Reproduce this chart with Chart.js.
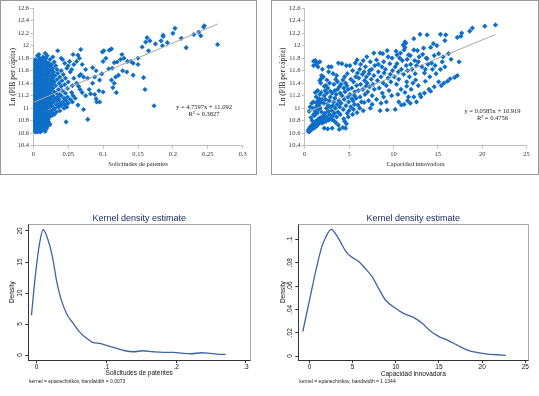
<!DOCTYPE html>
<html><head><meta charset="utf-8">
<script src="https://cdn.jsdelivr.net/npm/chart.js@4.4.1/dist/chart.umd.min.js"></script>
<style>
html,body{margin:0;padding:0;background:#fff;width:539px;height:396px;overflow:hidden;position:relative}
.box{position:absolute;border:1px solid #9a9a9a;box-sizing:border-box}
canvas{position:absolute}
</style></head><body>
<div class="box" style="left:0;top:0;width:257px;height:175px"></div>
<div class="box" style="left:271px;top:0;width:268px;height:175px"></div>
<canvas id="c1" width="255" height="173" style="left:1px;top:1px"></canvas>
<canvas id="c2" width="265" height="173" style="left:272px;top:1px"></canvas>
<canvas id="c3" width="270" height="200" style="left:0px;top:196px"></canvas>
<canvas id="c4" width="269" height="200" style="left:270px;top:196px"></canvas>
<script>
// ---------- DATA ----------
const patentPoints = [
 [0.003,10.62],[0.006,10.62],[0.010,10.62],[0.017,10.63],
 [0.001,10.64],[0.004,10.64],[0.008,10.64],[0.012,10.64],[0.017,10.65],
 [0.000,10.66],[0.002,10.66],[0.005,10.66],[0.009,10.66],[0.014,10.66],
 [0.001,10.68],[0.003,10.68],[0.007,10.68],[0.011,10.68],[0.019,10.68],
 [0.000,10.70],[0.002,10.70],[0.005,10.70],[0.008,10.70],[0.013,10.70],[0.016,10.70],
 [0.001,10.72],[0.004,10.72],[0.006,10.72],[0.010,10.72],[0.015,10.72],[0.021,10.72],
 [0.000,10.74],[0.003,10.74],[0.007,10.74],[0.012,10.74],[0.018,10.74],[0.024,10.74],
 [0.002,10.76],[0.005,10.76],[0.009,10.76],[0.014,10.76],[0.020,10.76],
 [0.000,10.78],[0.004,10.78],[0.008,10.78],[0.011,10.78],[0.017,10.78],[0.022,10.78],[0.047,10.78],
 [0.001,10.80],[0.003,10.80],[0.006,10.80],[0.013,10.80],[0.019,10.80],[0.016,10.81],
 [0.000,10.82],[0.005,10.82],[0.009,10.82],[0.015,10.82],[0.021,10.82],[0.078,10.82],
 [0.002,10.84],[0.007,10.84],[0.011,10.84],[0.018,10.84],
 [0.000,10.86],[0.004,10.86],[0.010,10.86],[0.014,10.86],[0.023,10.86],
 [0.001,10.88],[0.006,10.88],[0.012,10.88],[0.019,10.88],[0.026,10.88],
 [0.003,10.90],[0.008,10.90],[0.016,10.90],[0.022,10.90],[0.030,10.90],
 [0.000,10.92],[0.005,10.92],[0.011,10.92],[0.018,10.92],[0.027,10.92],
 [0.002,10.94],[0.009,10.94],[0.014,10.94],[0.021,10.94],[0.033,10.94],
 [0.001,10.96],[0.006,10.96],[0.012,10.96],[0.025,10.96],[0.038,10.96],
 [0.004,10.98],[0.010,10.98],[0.017,10.98],[0.029,10.98],[0.072,10.98],
 [0.000,11.00],[0.007,11.00],[0.013,11.00],[0.020,11.00],[0.031,11.00],[0.044,11.00],
 [0.003,11.02],[0.009,11.02],[0.016,11.02],[0.024,11.02],[0.036,11.02],[0.048,11.02],
 [0.001,11.04],[0.006,11.04],[0.011,11.04],[0.019,11.04],[0.027,11.04],[0.040,11.04],[0.064,11.05],[0.173,11.04],
 [0.004,11.06],[0.008,11.06],[0.014,11.06],[0.022,11.06],[0.033,11.06],[0.045,11.06],
 [0.002,11.08],[0.010,11.08],[0.017,11.08],[0.025,11.08],[0.038,11.08],[0.050,11.08],
 [0.000,11.10],[0.005,11.10],[0.012,11.10],[0.020,11.10],[0.029,11.10],[0.042,11.10],[0.056,11.10],[0.091,11.10],[0.095,11.10],
 [0.003,11.12],[0.008,11.12],[0.015,11.12],[0.023,11.12],[0.034,11.12],[0.047,11.12],
 [0.001,11.14],[0.006,11.14],[0.011,11.14],[0.018,11.14],[0.026,11.14],[0.037,11.14],[0.053,11.14],
 [0.004,11.16],[0.009,11.16],[0.014,11.16],[0.021,11.16],[0.031,11.16],[0.044,11.16],[0.060,11.16],[0.090,11.15],
 [0.002,11.18],[0.007,11.18],[0.016,11.18],[0.024,11.18],[0.035,11.18],[0.049,11.18],
 [0.000,11.20],[0.005,11.20],[0.012,11.20],[0.019,11.20],[0.028,11.20],[0.040,11.20],[0.057,11.20],[0.075,11.20],
 [0.003,11.22],[0.010,11.22],[0.017,11.22],[0.026,11.22],[0.038,11.22],[0.088,11.22],
 [0.001,11.24],[0.008,11.24],[0.014,11.24],[0.022,11.24],[0.033,11.24],[0.046,11.24],[0.082,11.23],[0.119,11.25],
 [0.005,11.26],[0.011,11.26],[0.020,11.26],[0.030,11.26],[0.055,11.25],[0.070,11.25],[0.100,11.26],
 [0.002,11.28],[0.009,11.28],[0.016,11.28],[0.025,11.28],[0.042,11.28],[0.067,11.30],[0.094,11.28],
 [0.000,11.30],[0.006,11.30],[0.013,11.30],[0.021,11.30],[0.036,11.30],[0.080,11.30],
 [0.003,11.32],[0.010,11.32],[0.018,11.32],[0.028,11.32],[0.049,11.32],[0.114,11.33],
 [0.001,11.34],[0.007,11.34],[0.015,11.34],[0.024,11.34],[0.040,11.35],[0.065,11.35],
 [0.004,11.36],[0.011,11.36],[0.020,11.36],[0.032,11.36],[0.056,11.36],
 [0.002,11.38],[0.009,11.38],[0.017,11.38],[0.027,11.38],[0.045,11.38],
 [0.000,11.40],[0.006,11.40],[0.013,11.40],[0.023,11.40],[0.037,11.40],[0.062,11.40],[0.085,11.40],[0.116,11.40],
 [0.003,11.42],[0.010,11.42],[0.019,11.42],[0.030,11.42],[0.050,11.42],
 [0.001,11.44],[0.008,11.44],[0.016,11.44],[0.026,11.44],[0.041,11.44],[0.112,11.45],[0.095,11.45],
 [0.005,11.46],[0.012,11.46],[0.021,11.46],[0.034,11.46],[0.058,11.48],
 [0.002,11.48],[0.009,11.48],[0.018,11.48],[0.028,11.48],[0.046,11.48],[0.078,11.48],[0.158,11.49],
 [0.000,11.50],[0.006,11.50],[0.014,11.50],[0.024,11.50],[0.038,11.50],[0.072,11.50],[0.118,11.50],[0.088,11.50],
 [0.003,11.52],[0.011,11.52],[0.020,11.52],[0.031,11.52],[0.068,11.54],[0.122,11.53],
 [0.001,11.54],[0.008,11.54],[0.017,11.54],[0.027,11.54],[0.043,11.54],[0.066,11.52],[0.143,11.53],
 [0.005,11.56],[0.013,11.56],[0.022,11.56],[0.035,11.56],[0.098,11.55],
 [0.002,11.58],[0.010,11.58],[0.019,11.58],[0.029,11.58],[0.053,11.58],[0.134,11.58],
 [0.000,11.60],[0.007,11.60],[0.015,11.60],[0.025,11.60],[0.040,11.60],[0.090,11.60],[0.128,11.60],
 [0.004,11.62],[0.012,11.62],[0.021,11.62],[0.034,11.62],[0.055,11.62],[0.075,11.62],
 [0.001,11.64],[0.009,11.64],[0.018,11.64],[0.028,11.64],[0.048,11.64],[0.108,11.63],[0.113,11.64],
 [0.006,11.66],[0.014,11.66],[0.024,11.66],[0.085,11.65],
 [0.003,11.68],[0.011,11.68],[0.020,11.68],[0.032,11.68],[0.050,11.68],
 [0.000,11.70],[0.008,11.70],[0.016,11.70],[0.026,11.70],[0.058,11.70],[0.070,11.70],[0.150,11.70],
 [0.005,11.72],[0.013,11.72],[0.022,11.72],[0.045,11.72],[0.143,11.72],
 [0.001,11.74],[0.010,11.74],[0.019,11.74],[0.030,11.74],[0.052,11.75],[0.100,11.75],[0.116,11.73],[0.120,11.74],
 [0.007,11.76],[0.015,11.76],[0.040,11.80],[0.062,11.75],
 [0.003,11.78],[0.012,11.78],[0.024,11.78],[0.042,11.78],[0.125,11.78],
 [0.009,11.80],[0.018,11.80],[0.066,11.80],[0.104,11.80],[0.130,11.80],[0.150,11.80],
 [0.014,11.82],[0.028,11.82],[0.006,11.84],[0.020,11.84],
 [0.008,11.86],[0.057,11.86],[0.127,11.86],[0.064,11.85],[0.017,11.88],[0.099,11.90],
 [0.035,11.92],[0.101,11.92],[0.109,11.93],[0.165,11.92],[0.068,11.94],[0.112,11.95],
 [0.245,12.32],[0.244,12.30],[0.237,12.22],[0.240,12.16],[0.230,12.18],[0.212,12.12],[0.203,12.28],[0.200,12.20],
 [0.186,12.17],[0.186,12.15],[0.183,12.08],[0.192,12.05],[0.185,12.00],[0.175,12.03],[0.167,12.08],[0.163,12.13],
 [0.161,12.06],[0.156,11.98],[0.264,12.02],[0.219,11.97],[0.140,11.75],[0.135,11.75],[0.160,11.30]
];
const capacityPoints = [
 [0.4,10.63],[0.45,10.66],[0.5,10.62],[0.55,10.68],[0.6,10.64],[0.65,10.70],[0.7,10.67],[0.75,10.72],[0.8,10.66],[0.85,10.69],[0.9,10.74],[0.95,10.71],
 [0.5,10.95],[0.6,11.02],[0.8,11.08],[0.9,11.00],[1.0,10.90],[0.7,10.85],[0.85,10.80],[1.0,11.10],[1.0,11.75],[1.0,11.68],
 [1.05,10.68],[1.1,10.73],[1.15,10.76],[1.2,10.70],[1.25,10.79],[1.3,10.74],[1.4,10.72],[1.45,10.78],[1.5,10.82],[1.55,10.75],[1.6,10.80],[1.7,10.77],
 [1.75,10.85],[1.8,10.79],[1.9,10.83],[1.95,10.76],[1.1,10.88],[1.2,10.95],[1.3,11.02],[1.35,11.08],[1.4,10.92],[1.5,11.12],[1.55,10.98],[1.6,11.05],
 [1.65,11.15],[1.7,11.22],[1.75,11.00],[1.8,11.09],[1.85,11.25],[1.9,10.94],[1.95,11.14],[1.2,11.76],[1.3,11.70],[1.4,11.72],[1.5,11.66],[1.7,11.74],
 [1.9,11.52],[1.7,11.44],[1.85,11.47],[1.8,11.40],[2.0,11.62],[1.2,11.25],[1.3,11.18],[1.45,11.28],
 [2.0,10.80],[2.1,10.88],[2.15,10.78],[2.2,10.68],[2.25,10.84],[2.3,10.92],[2.4,10.79],[2.45,11.00],[2.5,10.86],[2.55,11.06],[2.6,10.67],[2.65,10.95],
 [2.7,10.81],[2.75,11.12],[2.8,10.90],[2.85,11.02],[2.9,11.18],[2.95,10.84],[2.1,11.50],[2.15,11.08],[2.2,11.20],[2.3,11.28],[2.35,11.14],[2.4,11.36],
 [2.5,11.24],[2.6,11.32],[2.7,11.58],[2.7,11.66],[2.8,11.40],[2.9,11.27],[3.0,11.66],[2.5,11.45],[2.2,11.35],
 [3.0,10.82],[3.05,10.96],[3.1,10.68],[3.15,11.04],[3.2,10.88],[3.25,11.10],[3.3,10.80],[3.35,10.92],[3.4,11.16],[3.45,11.00],[3.5,10.77],[3.55,11.22],
 [3.6,10.86],[3.65,11.06],[3.7,11.30],[3.75,10.94],[3.8,10.73],[3.85,11.12],[3.9,10.66],[3.95,11.02],[3.2,11.55],[3.3,11.38],[3.5,11.46],[3.6,11.52],
 [3.8,11.72],[3.7,11.42],[3.9,11.34],[3.4,11.28],[3.1,11.24],
 [4.0,10.90],[4.1,11.08],[4.2,11.20],[4.3,10.69],[4.35,10.98],[4.4,10.83],[4.45,11.14],[4.5,10.79],[4.55,11.26],[4.6,10.68],[4.65,11.04],[4.7,10.75],
 [4.75,11.36],[4.8,10.92],[4.85,11.18],[4.9,10.86],[4.95,11.10],[4.2,11.71],[4.3,11.45],[4.5,11.50],[4.6,11.40],[4.7,11.68],[4.8,11.55],[4.9,11.30],
 [4.4,11.32],[4.1,11.38],[4.0,11.24],
 [5.0,10.96],[5.1,11.68],[5.1,11.22],[5.2,11.02],[5.3,11.32],[5.4,10.90],[5.45,11.12],[5.5,11.42],[5.6,11.06],[5.65,11.26],[5.7,11.72],[5.75,11.50],
 [5.8,11.16],[5.85,11.36],[5.9,10.93],[5.95,11.56],[5.2,11.46],[5.4,11.60],[5.6,11.20],[5.9,11.77],[5.3,11.15],[5.5,10.98],
 [6.0,11.05],[6.05,11.28],[6.1,11.48],[6.2,11.62],[6.25,11.18],[6.3,11.38],[6.4,11.10],[6.5,11.54],[6.55,11.30],[6.6,10.96],[6.6,11.76],[6.7,11.09],
 [6.75,11.44],[6.8,11.22],[6.85,11.66],[6.9,11.35],[6.95,11.50],[6.3,11.70],[6.7,11.58],[6.2,11.00],
 [7.0,11.82],[7.05,11.40],[7.1,11.26],[7.2,11.12],[7.25,11.55],[7.3,11.34],[7.4,11.00],[7.4,11.74],[7.5,11.46],[7.55,11.62],[7.6,11.20],[7.7,11.38],
 [7.8,11.88],[7.8,11.52],[7.85,11.30],[7.9,11.68],[7.3,11.60],[7.6,11.06],
 [8.1,11.14],[8.1,11.77],[8.2,11.44],[8.3,11.58],[8.4,11.32],[8.5,10.96],[8.5,11.88],[8.6,11.50],[8.7,11.66],[8.75,11.24],[8.8,11.87],[8.85,11.40],
 [8.9,11.18],[8.9,11.74],[8.95,11.56],[8.3,11.70],[8.6,11.08],
 [9.1,11.62],[9.2,11.36],[9.3,10.97],[9.3,11.92],[9.4,11.48],[9.5,11.28],[9.6,11.71],[9.65,11.54],[9.7,11.42],[9.8,11.20],[9.85,11.80],[9.9,11.60],
 [9.4,11.82],[9.2,11.10],
 [10.1,11.50],[10.2,10.98],[10.2,11.66],[10.3,11.91],[10.35,11.38],[10.4,11.71],[10.5,11.22],[10.55,11.58],[10.6,11.46],[10.7,11.80],[10.8,11.88],
 [10.85,11.30],[10.9,11.62],[11.0,11.76],[10.6,11.10],[10.4,11.85],[10.9,11.05],
 [11.1,12.01],[11.15,11.54],[11.2,11.06],[11.2,11.93],[11.3,11.25],[11.3,11.97],[11.3,12.06],[11.4,12.04],[11.45,11.68],[11.5,11.42],[11.55,11.78],
 [11.6,11.60],[11.7,11.85],[11.8,11.50],[11.9,11.08],[11.9,11.84],[11.95,11.70],[11.5,11.35],[11.7,11.18],[11.6,11.12],
 [12.0,11.30],[12.1,11.62],[12.3,12.11],[12.3,11.93],[12.4,11.76],[12.45,11.55],[12.6,11.10],[12.6,11.68],[12.7,11.92],[12.8,11.36],[12.8,11.74],
 [12.9,11.82],[12.5,11.45],[12.2,11.40],[12.3,11.18],
 [13.0,12.18],[13.1,11.18],[13.2,11.66],[13.4,11.96],[13.5,11.24],[13.5,11.56],[13.6,11.43],[13.7,11.80],[13.8,12.17],[13.8,11.79],[13.9,11.70],
 [13.3,11.86],[13.6,11.62],[13.0,11.22],
 [14.1,11.50],[14.2,11.27],[14.2,11.97],[14.3,11.72],[14.5,12.03],[14.6,11.34],[14.6,11.84],[14.8,11.55],[14.9,12.00],[14.7,11.68],[14.4,11.62],[14.0,11.30],
 [15.1,11.87],[15.3,12.18],[15.3,11.62],[15.4,11.36],[15.5,11.74],[15.7,11.40],[15.8,11.66],[15.8,12.08],[15.9,12.17],[15.6,11.82],[15.1,11.42],
 [16.1,11.43],[16.2,11.87],[16.5,11.78],[16.4,11.47],[16.9,11.49],[17.2,11.52],[17.2,12.13],[17.4,11.74],[17.6,12.15],[17.7,12.20],[18.6,12.23],
 [18.9,12.28],[20.3,12.31],[21.5,12.33]
];
const patTrendX = [0, 0.264];
const patTrendY = [11.092, 12.349];
const capTrendX = [0.3, 21.5];
const capTrendY = [10.937, 12.177];
const patEquation = ['y = 4.7597x + 11.092', 'R\u00B2 = 0.3827'];
const capEquation = ['y = 0.0585x + 10.919', 'R\u00B2 = 0.4756'];

const lnTickValues = [10.4,10.6,10.8,11,11.2,11.4,11.6,11.8,12,12.2,12.4,12.6];
const lnTickLabels = ['10.4','10.6','10.8','11','11.2','11.4','11.6','11.8','12','12.2','12.4','12.6'];
const patXTickValues = [0,0.05,0.1,0.15,0.2,0.25,0.3];
const patXTickLabels = ['0','0.05','0.1','0.15','0.2','0.25','0.3'];
const capXTickValues = [0,5,10,15,20,25];
const capXTickLabels = ['0','5','10','15','20','25'];

const kdPatX = [-0.0072,-0.0024,0.0038,0.0096,0.0167,0.023,0.0287,0.0344,0.043,0.0526,0.062,0.0717,0.081,0.0908,0.1,0.1147,0.127,0.1386,0.153,0.167,0.182,0.196,0.21,0.222,0.236,0.246,0.258,0.271];
const kdPatY = [6.4,12,17.6,20.2,18.5,15.7,12,9.3,6.7,5.1,3.7,2.7,2.0,1.87,1.55,1.07,0.69,0.53,0.69,0.53,0.43,0.43,0.27,0.21,0.37,0.32,0.16,0.1];
const kdCapX = [-0.78,0,0.85,1.43,1.82,2.52,3.0,3.57,4.26,4.92,5.7,6.47,7.25,8.0,8.8,9.96,10.9,12.1,13.06,14.0,15.0,15.97,17.1,18.3,19.5,20.6,21.8,22.75];
const kdCapY = [0.021,0.048,0.077,0.094,0.101,0.1086,0.105,0.098,0.089,0.0846,0.081,0.075,0.068,0.058,0.048,0.041,0.0366,0.0329,0.028,0.0214,0.0166,0.0137,0.0094,0.0051,0.0029,0.0017,0.0011,0.0006];
const kdPatXTicks = [0,0.1,0.2,0.3];
const kdPatXLabels = ['0','.1','.2','.3'];
const kdPatYTicks = [0,5,10,15,20];
const kdPatYLabels = ['0','5','10','15','20'];
const kdCapXTicks = [0,5,10,15,20,25];
const kdCapXLabels = ['0','5','10','15','20','25'];
const kdCapYTicks = [0,0.02,0.04,0.06,0.08,0.1];
const kdCapYLabels = ['0','.02','.04','.06','.08','.1'];
const kdTitle = 'Kernel density estimate';
const kdPatNote = 'kernel = epanechnikov, bandwidth = 0.0073';
const kdCapNote = 'kernel = epanechnikov, bandwidth = 1.1344';

// ---------- HELPERS ----------
const textPlugin = {
  id: 'extraText',
  afterDraw(chart, args, opts) {
    const ctx = chart.ctx;
    (opts.items || []).forEach(it => {
      ctx.save();
      ctx.font = it.font; ctx.fillStyle = it.color;
      ctx.textAlign = it.align || 'center'; ctx.textBaseline = 'middle';
      const x = it.x === 'center' ? (chart.chartArea.left + chart.chartArea.right) / 2 : it.x;
      ctx.fillText(it.text, x, it.y);
      ctx.restore();
    });
  }
};
const framePlugin = {
  id: 'frame',
  afterDatasetsDraw(chart, args, opts) {
    if (!opts.color) return;
    const {ctx, chartArea: a} = chart;
    ctx.save(); ctx.strokeStyle = opts.color; ctx.lineWidth = 1;
    ctx.beginPath();
    ctx.moveTo(Math.round(a.left) + 0.5, Math.round(a.top) + 0.5);
    ctx.lineTo(Math.round(a.right) + 0.5, Math.round(a.top) + 0.5);
    ctx.lineTo(Math.round(a.right) + 0.5, Math.round(a.bottom) + 0.5);
    ctx.stroke(); ctx.restore();
  }
};
const pts = (arr) => arr.map(p => ({x: p[0], y: p[1]}));
const zip = (xs, ys) => xs.map((x, i) => ({x, y: ys[i]}));
const fixTicks = (vals) => (s) => { s.ticks = vals.map(v => ({value: v})); };

const serif = 'Liberation Serif, Times New Roman, serif';
const sans = 'Liberation Sans, Arial, sans-serif';
const blue = '#0e6ec8';

function excelScatter(id, points, tx, ty, eq, xVals, xLabs, xMin, xMax, xTitle, dims) {
  new Chart(document.getElementById(id), {
    type: 'scatter',
    data: { datasets: [
      { type: 'line', data: zip(tx, ty), borderColor: '#a6a6a6', borderWidth: 1, pointRadius: 0, fill: false, order: 0 },
      { data: pts(points), pointStyle: 'rectRot', pointRadius: 2.6, backgroundColor: blue, borderColor: blue, borderWidth: 0, order: 1 }
    ]},
    options: {
      responsive: false, animation: false, events: [],
      layout: { padding: { left: 0, right: dims.right, top: dims.top, bottom: 0 } },
      plugins: { legend: { display: false }, tooltip: { enabled: false },
        extraText: { items: [
          { text: eq[0], x: dims.eqX, y: dims.eqY, font: '6.5px ' + serif, color: '#222' },
          { text: eq[1], x: dims.eqX, y: dims.eqY + 6.5, font: '6.5px ' + serif, color: '#222' }
        ]}
      },
      scales: {
        x: { type: 'linear', min: xMin, max: xMax, afterBuildTicks: fixTicks(xVals),
          afterFit: s => { s.height = dims.xh; },
          ticks: { autoSkip: false, maxRotation: 0, padding: 2.3, font: { family: serif, size: 6.5, lineHeight: 1 }, color: '#333', callback: (v, i) => xLabs[i] },
          grid: { display: true, drawOnChartArea: false, tickLength: 3, color: '#bfbfbf' },
          border: { color: '#bfbfbf' },
          title: { display: true, text: xTitle, font: { family: serif, size: 6.5, lineHeight: 1 }, color: '#222', padding: { top: 0, bottom: 6.75 } } },
        y: { type: 'linear', min: 10.4, max: 12.6, afterBuildTicks: fixTicks(lnTickValues),
          afterFit: s => { s.width = dims.left; },
          ticks: { autoSkip: false, padding: 1.3, font: { family: serif, size: 6.5, lineHeight: 1 }, color: '#333', callback: (v, i) => lnTickLabels[i] },
          grid: { display: true, drawOnChartArea: false, tickLength: 3, color: '#bfbfbf' },
          border: { color: '#bfbfbf' },
          title: { display: true, text: 'Ln (PIB per cápita)', font: { family: serif, size: 7.5, lineHeight: 1 }, color: '#222', padding: { top: dims.ytp, bottom: 0 } } }
      }
    },
    plugins: [textPlugin]
  });
}

excelScatter('c1', patentPoints, patTrendX, patTrendY, patEquation, patXTickValues, patXTickLabels, 0, 0.3, 'Solicitudes de patentes',
  { left: 32.3, right: 13.3, top: 7.3, xh: 28.3, eqX: 203, eqY: 106.7, ytp: 7.9 });
excelScatter('c2', capacityPoints, capTrendX, capTrendY, capEquation, capXTickValues, capXTickLabels, 0, 25, 'Capacidad innovadora',
  { left: 32.7, right: 10.5, top: 7.0, xh: 28.3, eqX: 220.5, eqY: 110.7, ytp: 7.0 });

function stataKernel(id, xs, ys, xMin, xMax, yMin, yMax, xT, xL, yT, yL, xTitle, note, dims) {
  new Chart(document.getElementById(id), {
    type: 'scatter',
    data: { datasets: [
      { data: zip(xs, ys), showLine: true, borderColor: '#3e63a3', borderWidth: 1.3, pointRadius: 0, cubicInterpolationMode: 'monotone', fill: false }
    ]},
    options: {
      responsive: false, animation: false, events: [],
      layout: { padding: { left: 0, right: dims.right, top: 28.3, bottom: 0 } },
      plugins: { legend: { display: false }, tooltip: { enabled: false },
        frame: { color: '#a8a8a8' },
        extraText: { items: [
          { text: kdTitle, x: 'center', y: dims.titleY, font: '9px ' + sans, color: '#1e2a6a' },
          { text: note, x: dims.noteX, y: 185.8, font: '5px ' + sans, color: '#222', align: 'left' }
        ]}
      },
      scales: {
        x: { type: 'linear', min: xMin, max: xMax, afterBuildTicks: fixTicks(xT),
          afterFit: s => { s.height = 36; },
          ticks: { autoSkip: false, maxRotation: 0, padding: 0.5, font: { family: sans, size: 6.5, lineHeight: 1 }, color: '#111', callback: (v, i) => xL[i] },
          grid: { display: true, drawOnChartArea: false, tickLength: 3, color: '#333' },
          border: { color: '#333' },
          title: { display: true, text: xTitle, font: { family: sans, size: 6.5, lineHeight: 1 }, color: '#111', padding: { top: 0, bottom: dims.xtb } } },
        y: { type: 'linear', min: yMin, max: yMax, afterBuildTicks: fixTicks(yT),
          afterFit: s => { s.width = 28.3; },
          ticks: { autoSkip: false, minRotation: 90, maxRotation: 90, crossAlign: 'center', padding: dims.ypad, font: { family: sans, size: 6.5, lineHeight: 1 }, color: '#111', callback: (v, i) => yL[i] },
          grid: { display: true, drawOnChartArea: false, tickLength: 3, color: '#333' },
          border: { color: '#333' },
          title: { display: true, text: 'Density', font: { family: sans, size: 6.5, lineHeight: 1 }, color: '#111', padding: { top: dims.ytp, bottom: 0 } } }
      }
    },
    plugins: [textPlugin, framePlugin]
  });
}

stataKernel('c3', kdPatX, kdPatY, -0.01175, 0.3059, -0.8, 21.08, kdPatXTicks, kdPatXLabels, kdPatYTicks, kdPatYLabels,
  'Solicitudes de patentes', kdPatNote, { right: 20, titleY: 22.3, noteX: 29, xtb: 19.75, ypad: 1.7, ytp: 9.4 });
stataKernel('c4', kdCapX, kdCapY, -1.30, 25.35, -0.0034, 0.1129, kdCapXTicks, kdCapXLabels, kdCapYTicks, kdCapYLabels,
  'Capacidad innovadora', kdCapNote, { right: 10.7, titleY: 23, noteX: 29.3, xtb: 18.75, ypad: 0.1, ytp: 10 });
</script>
</body></html>
